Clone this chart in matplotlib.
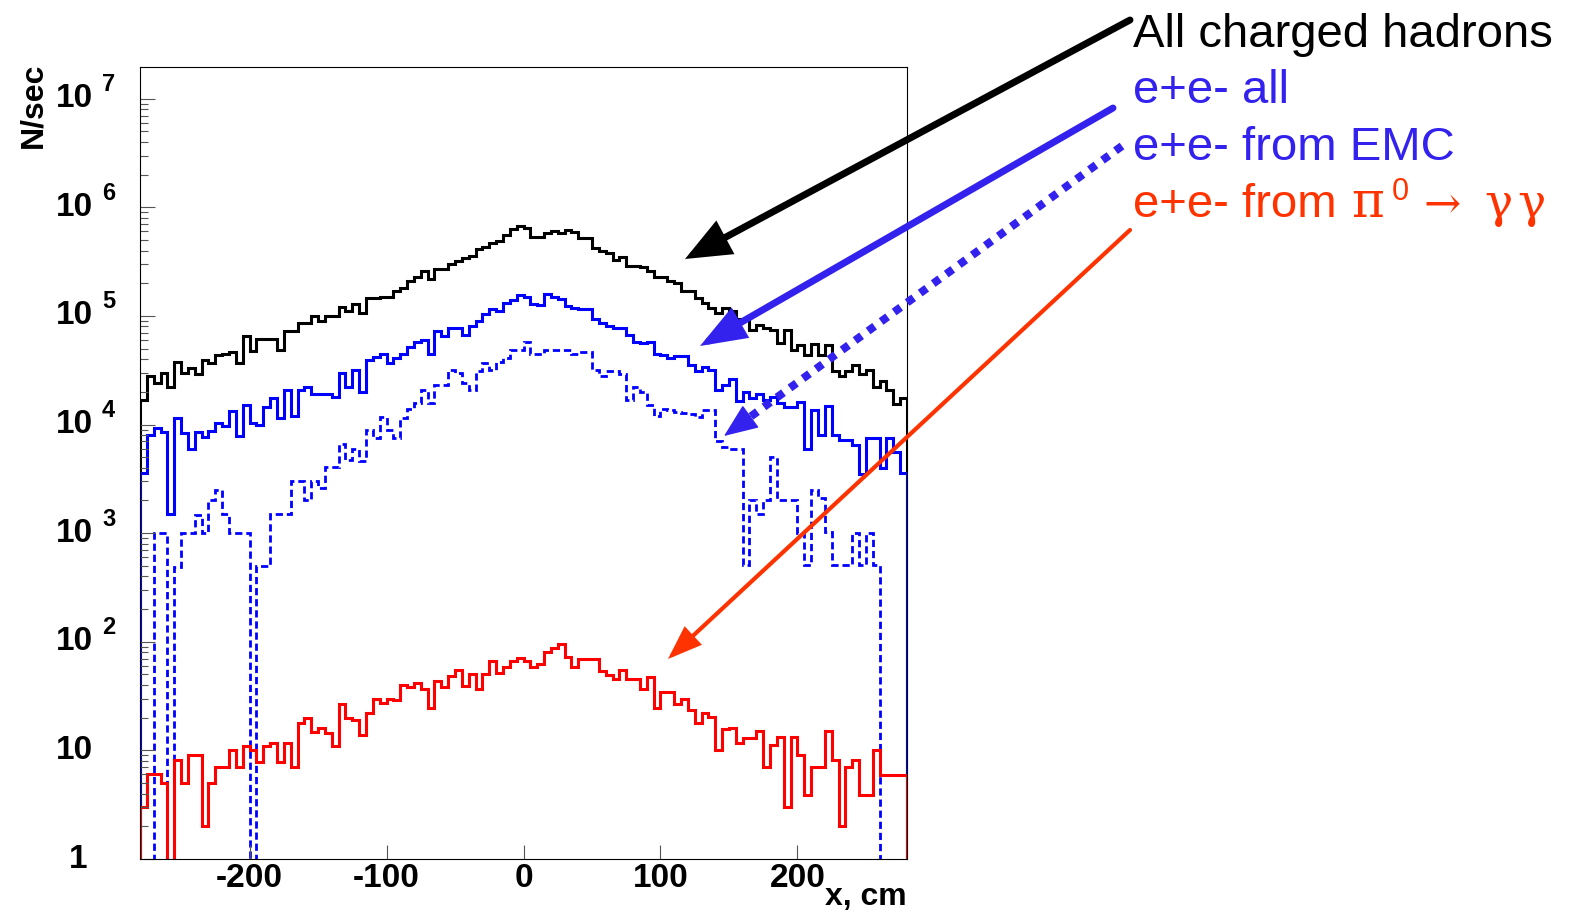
import numpy as np
import matplotlib
matplotlib.use('Agg')
import matplotlib.pyplot as plt
from matplotlib.patches import FancyArrowPatch

plt.rcParams['font.family'] = ['Liberation Sans', 'DejaVu Sans']

W, H = 1569, 916

# 5 cm bins from -280 to 280
edges = np.arange(-280, 281, 5)

# N/sec per bin
hadrons = [
    1.7e4, 2.8e4, 2.4e4, 3.0e4, 2.2e4, 3.8e4, 3.0e4, 3.3e4, 2.9e4, 3.9e4,
    3.7e4, 4.4e4, 4.5e4, 4.7e4, 3.7e4, 6.5e4, 4.8e4, 6.2e4, 6.2e4, 6.2e4,
    4.9e4, 7.2e4, 7.2e4, 8.6e4, 8.6e4, 1.0e5, 9.0e4, 9.9e4, 9.9e4, 1.2e5,
    1.1e5, 1.3e5, 1.06e5, 1.45e5, 1.45e5, 1.5e5, 1.5e5, 1.7e5, 1.8e5, 2.1e5,
    2.3e5, 2.6e5, 2.2e5, 2.7e5, 2.7e5, 3.0e5, 3.2e5, 3.4e5, 3.6e5, 4.1e5,
    4.3e5, 4.7e5, 4.9e5, 5.6e5, 6.3e5, 6.7e5, 6.5e5, 5.3e5, 5.3e5, 5.8e5,
    6.0e5, 5.8e5, 6.2e5, 5.9e5, 5.2e5, 5.2e5, 4.2e5, 4.0e5, 3.8e5, 3.3e5,
    3.5e5, 2.9e5, 2.9e5, 2.8e5, 2.6e5, 2.3e5, 2.3e5, 2.1e5, 2.0e5, 1.7e5,
    1.7e5, 1.45e5, 1.33e5, 1.18e5, 1.06e5, 1.18e5, 1.1e5, 9.4e4, 9.4e4, 7.4e4,
    8.3e4, 7.8e4, 7.4e4, 5.6e4, 7.4e4, 4.9e4, 5.4e4, 4.4e4, 5.5e4, 4.4e4,
    5.4e4, 3.1e4, 2.8e4, 3.1e4, 3.5e4, 2.9e4, 3.2e4, 2.2e4, 2.5e4, 2.1e4,
    1.55e4, 1.75e4]

ee_all = [
    3.6e3, 8.0e3, 9.2e3, 8.6e3, 1.5e3, 1.16e4, 8.3e3, 6.0e3, 8.6e3, 7.7e3,
    8.8e3, 1.03e4, 9.7e3, 1.33e4, 7.9e3, 1.5e4, 1.03e4, 9.9e3, 1.44e4, 1.75e4,
    1.14e4, 2.1e4, 1.2e4, 2.1e4, 2.2e4, 1.9e4, 1.9e4, 1.9e4, 1.8e4, 3.0e4,
    2.2e4, 3.2e4, 2.0e4, 3.9e4, 4.2e4, 4.5e4, 3.7e4, 4.1e4, 4.5e4, 5.2e4,
    5.7e4, 6.0e4, 4.5e4, 7.2e4, 6.5e4, 7.7e4, 7.7e4, 6.7e4, 8.0e4, 8.9e4,
    1.04e5, 1.15e5, 1.12e5, 1.33e5, 1.4e5, 1.56e5, 1.49e5, 1.3e5, 1.26e5, 1.6e5,
    1.49e5, 1.42e5, 1.24e5, 1.18e5, 1.15e5, 1.15e5, 9.3e4, 8.7e4, 8.1e4, 7.7e4,
    7.7e4, 6.7e4, 5.7e4, 5.6e4, 5.8e4, 4.5e4, 4.4e4, 4.1e4, 4.3e4, 4.3e4,
    3.5e4, 3.1e4, 3.4e4, 3.2e4, 2.1e4, 2.3e4, 2.6e4, 1.66e4, 2.0e4, 1.75e4,
    1.9e4, 1.7e4, 1.8e4, 1.57e4, 1.44e4, 1.44e4, 1.6e4, 6.0e3, 1.36e4, 8.0e3,
    1.48e4, 8.0e3, 7.2e3, 7.2e3, 6.5e3, 3.5e3, 7.5e3, 7.6e3, 4.0e3, 7.6e3,
    5.6e3, 3.6e3]

ee_emc = [
    0, 0, 1.0e3, 1.0e3, 0, 4.9e2, 1.0e3, 1.0e3, 1.47e3, 1.0e3,
    2.0e3, 2.5e3, 1.5e3, 1.0e3, 1.0e3, 1.0e3, 0, 5.0e2, 5.0e2, 1.5e3,
    1.5e3, 1.5e3, 3.0e3, 3.0e3, 2.0e3, 3.0e3, 2.6e3, 4.1e3, 4.1e3, 6.6e3,
    4.7e3, 6.0e3, 4.6e3, 9.0e3, 7.5e3, 1.18e4, 8.9e3, 7.5e3, 1.14e4, 1.4e4,
    1.57e4, 2.1e4, 1.57e4, 2.3e4, 2.3e4, 3.2e4, 3.0e4, 2.4e4, 2.1e4, 3.1e4,
    3.7e4, 3.2e4, 3.8e4, 4.1e4, 4.9e4, 4.9e4, 5.8e4, 4.5e4, 4.5e4, 4.9e4,
    4.9e4, 4.9e4, 4.9e4, 4.5e4, 4.7e4, 4.7e4, 3.2e4, 2.8e4, 3.1e4, 3.1e4,
    2.9e4, 1.7e4, 2.2e4, 2.0e4, 1.5e4, 1.2e4, 1.4e4, 1.36e4, 1.3e4, 1.27e4,
    1.25e4, 1.18e4, 1.36e4, 1.36e4, 7.0e3, 6.2e3, 5.9e3, 5.9e3, 5.1e2, 2.0e3,
    1.5e3, 2.0e3, 5.0e3, 2.0e3, 2.0e3, 2.0e3, 1.0e3, 5.1e2, 2.5e3, 2.1e3,
    1.03e3, 5.1e2, 5.1e2, 5.1e2, 1.0e3, 5.1e2, 1.0e3, 5.1e2, 0, 0,
    0, 0]

ee_pi0 = [
    3.0, 6.1, 6.1, 5.0, 0, 8.1, 5.0, 9.1, 9.1, 2.0,
    5.0, 7.0, 7.0, 10, 7.0, 11, 10, 7.9, 11, 11.8,
    7.9, 11.8, 7.0, 18, 20, 14.9, 16, 14.4, 11, 27,
    19.7, 19, 13.9, 22, 30, 27.5, 29.5, 29, 40, 38.6,
    42, 36.5, 24.4, 43.5, 38, 48, 55, 39, 50.5, 36.8,
    50.5, 66, 52, 59, 66, 71, 66, 59, 62.5, 81,
    88, 95.5, 73, 59, 69, 69, 69, 54, 49.5, 45,
    55, 45, 45, 37, 47, 24.4, 34.8, 34.8, 27, 30,
    23.6, 17.8, 22, 20.5, 10, 15.7, 16, 11.8, 12.9, 12.9,
    15.2, 7.0, 11.2, 13.2, 3.0, 13.2, 9.1, 3.9, 7.1, 7.1,
    15.2, 8.2, 2.0, 7.1, 8.1, 3.9, 3.9, 10, 5.9, 5.9,
    5.9, 5.9]

xticks = [-200, -100, 0, 100, 200]
xtick_labels = ['-200', '-100', '0', '100', '200']
decades = list(range(0, 8))

fig = plt.figure(figsize=(W / 100, H / 100), dpi=100)
ax = fig.add_axes([140 / W, 57 / H, 767 / W, 792 / H])

floor = 1e-3  # empty bins drop below the axis, like ROOT draws them


def draw_hist(vals, **kw):
    v = np.asarray(vals, dtype=float)
    v = np.where(v > 0, v, floor)
    ax.stairs(v, edges, baseline=floor, joinstyle='miter', **kw)


draw_hist(hadrons, color='black', lw=2.2)
draw_hist(ee_all, color='#0000ff', lw=2.2)
draw_hist(ee_emc, color='#0000ff', lw=2.0, linestyle=(0, (2.6, 1.4)))
draw_hist(ee_pi0, color='#ff0000', lw=2.2)

ax.set_yscale('log')
ax.set_xlim(-280, 280)
ax.set_ylim(1, 1.96e7)

for sp in ax.spines.values():
    sp.set_linewidth(0.8)

ax.set_xticks(xticks)
ax.set_xticklabels(xtick_labels, fontsize=24, fontweight='bold')
ax.tick_params(axis='x', which='major', direction='in', length=10, width=0.8,
               color='#555555', pad=3)
ax.tick_params(axis='x', which='minor', bottom=False)
ax.set_yticks([10.0 ** k for k in decades])
ax.set_yticklabels([])
ax.tick_params(axis='y', which='major', direction='in', length=11, width=0.8,
               color='#555555')
ax.tick_params(axis='y', which='minor', direction='in', length=5.5, width=0.8,
               color='#555555')

# ROOT style decade labels: "10" plus a raised exponent
ytr = ax.get_yaxis_transform()
for k in decades:
    if k == 0:
        ax.text((87 - 140) / 767, 1, '1', transform=ytr, ha='right', va='center',
                fontsize=24, fontweight='bold')
        continue
    ax.text((93 - 140) / 767, 10.0 ** k, '10', transform=ytr, ha='right',
            va='center', fontsize=24, fontweight='bold')
    if k > 1:
        ax.text((102 - 140) / 767, 10.0 ** (k + 0.13), str(k), transform=ytr,
                ha='left', va='center', fontsize=17, fontweight='bold')

ax.text((33 - 140) / 767, 1.006, 'N/sec', transform=ax.transAxes, rotation=90,
        ha='center', va='top', fontsize=23, fontweight='bold')
ax.text(1.0, (859 - 897) / 792, 'x, cm', transform=ax.transAxes, ha='right',
        va='center', fontsize=23, fontweight='bold')


def fpx(x, y):
    return (x / W, 1 - y / H)


arrow_blue = '#3322ee'
arrow_red = '#ff3300'

# legend texts on the right
fig.text(*fpx(1133, 47), 'All charged hadrons', color='black', fontsize=34,
         va='baseline')
fig.text(*fpx(1133, 103), 'e+e- all', color=arrow_blue, fontsize=34, va='baseline')
fig.text(*fpx(1133, 160), 'e+e- from EMC', color=arrow_blue, fontsize=34,
         va='baseline')
fig.text(*fpx(1133, 217), 'e+e- from ', color=arrow_red, fontsize=34, va='baseline')
fig.text(*fpx(1351, 217), '\u03c0', color=arrow_red, fontsize=36, va='baseline',
         family='DejaVu Serif')
fig.text(*fpx(1392, 200), '0', color=arrow_red, fontsize=22, va='baseline')
fig.text(*fpx(1423, 217), '\u2192', color=arrow_red, fontsize=32, va='baseline',
         family='DejaVu Serif')
fig.text(*fpx(1484, 217), '\u03b3', color=arrow_red, fontsize=34, va='baseline',
         family='DejaVu Serif')
fig.text(*fpx(1517, 217), '\u03b3', color=arrow_red, fontsize=34, va='baseline',
         family='DejaVu Serif')


def arrow(tail, tip, color, lw, head_len, head_w, ls='-'):
    tail_f = fpx(*tail)
    tip_f = fpx(*tip)
    if ls == '-':
        a = FancyArrowPatch(tail_f, tip_f, transform=fig.transFigure,
                            arrowstyle=f'-|>,head_length={head_len},head_width={head_w}',
                            mutation_scale=1, color=color, lw=lw,
                            shrinkA=0, shrinkB=0, joinstyle='miter')
        fig.add_artist(a)
        return
    # dotted shaft, solid head
    d = np.array(tip, float) - np.array(tail, float)
    n = np.hypot(*d)
    base = np.array(tip, float) - d / n * head_len * 100 / 72
    shaft = FancyArrowPatch(tail_f, fpx(*base), transform=fig.transFigure,
                            arrowstyle='-', color=color, lw=lw, linestyle=ls,
                            shrinkA=0, shrinkB=0, capstyle='butt')
    fig.add_artist(shaft)
    start = np.array(tip, float) - d / n * (head_len + 2) * 100 / 72
    head = FancyArrowPatch(fpx(*start), tip_f, transform=fig.transFigure,
                           arrowstyle=f'-|>,head_length={head_len},head_width={head_w}',
                           mutation_scale=1, color=color, lw=1,
                           shrinkA=0, shrinkB=0)
    fig.add_artist(head)


arrow((1130, 20), (685, 259), 'black', 5.0, 24, 10)
arrow((1113, 108), (700, 346), arrow_blue, 5.0, 24, 9)
arrow((1122, 146), (724, 436), arrow_blue, 5.8, 22, 9, ls=(0, (1, 1)))
arrow((1130, 230), (668, 659), arrow_red, 3.0, 19, 7)

fig.savefig('out.png', dpi=100)
